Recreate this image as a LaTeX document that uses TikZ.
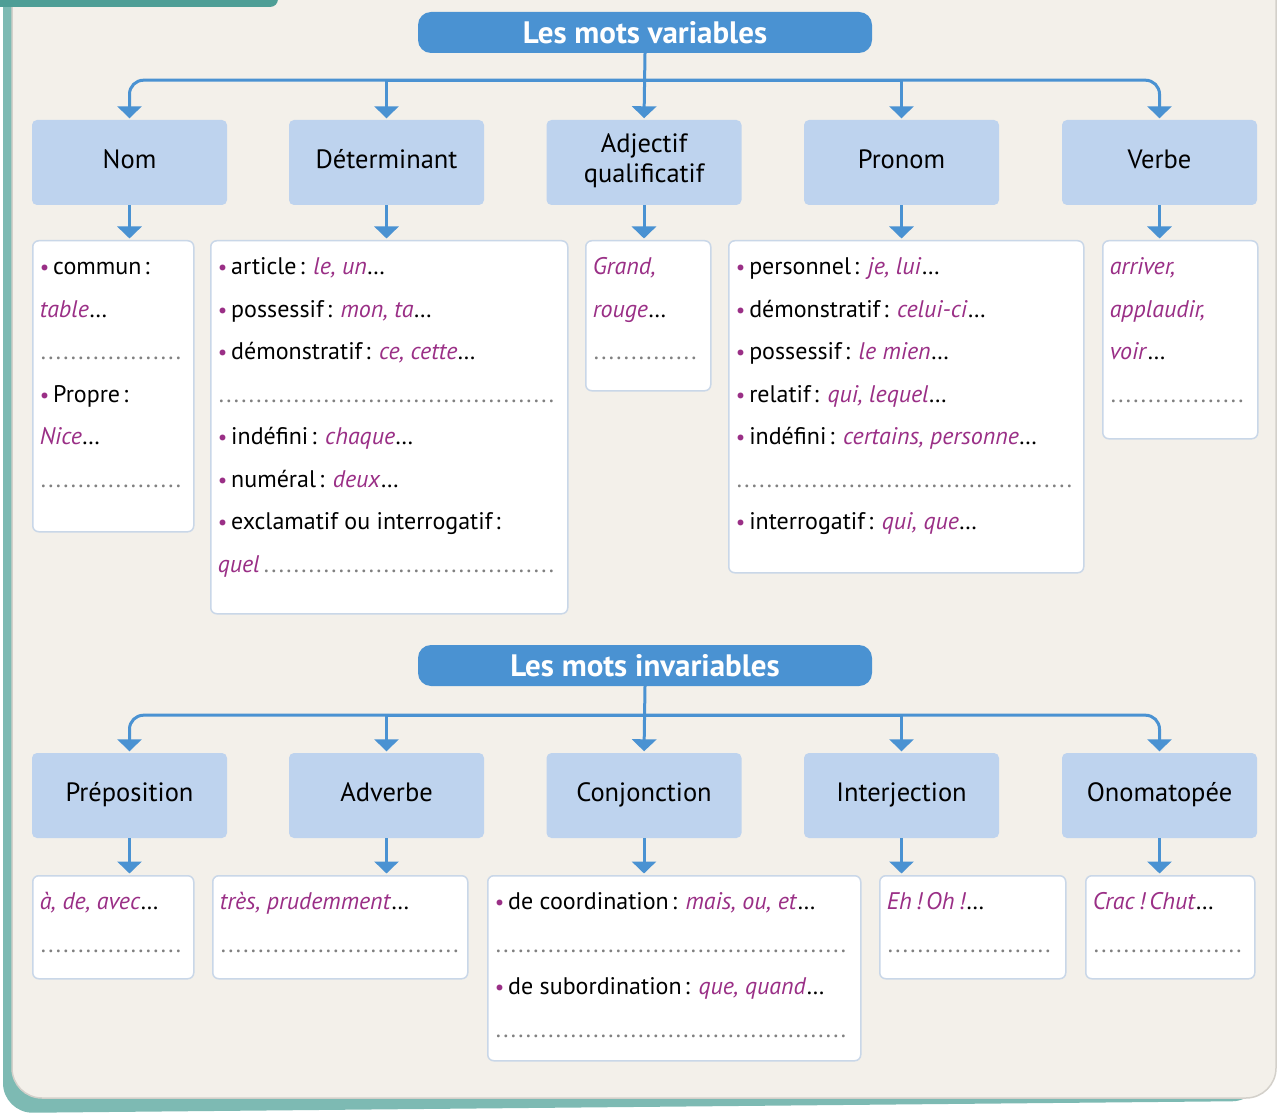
\documentclass[tikz,border=0pt]{standalone}
\usepackage{fontspec}
\setmainfont{PT Sans}
\usepackage{xcolor}
\usetikzlibrary{arrows.meta,positioning}

\definecolor{hdrblue}{HTML}{4A92D2}
\definecolor{catblue}{HTML}{BED3EE}
\definecolor{boxline}{HTML}{C9D7E8}
\definecolor{plum}{HTML}{9A2F86}
\definecolor{paper}{HTML}{F3F0EA}
\definecolor{frame}{HTML}{7DBAB3}
\definecolor{tab}{HTML}{4E9E96}
\definecolor{edge}{HTML}{D3D0CA}
\definecolor{dotgrey}{HTML}{808080}

\newcommand{\ex}[1]{\textcolor{plum}{\textit{#1}}}
\newcommand{\bul}{{\color{plum}\fontsize{21}{21}\selectfont\textbullet}\hspace{4pt}}
\newcommand{\col}{\hspace{3pt}:}
\newcommand{\dotsto}{{\color{dotgrey}\leaders\hbox to 7.5pt{\hss.\hss}\hfill}}
\newcommand{\dotline}{\leavevmode\hbox to \linewidth{\dotsto}}
\newcommand{\listbox}[3]{\parbox[t][#2][t]{#1}{\raggedright\fontsize{24}{42.5}\selectfont\rule{0pt}{28pt}#3}}

\begin{document}
\begin{tikzpicture}[x=1pt,y=-1pt,
    hdr/.style={fill=hdrblue, rounded corners=13pt, minimum width=454pt, minimum height=41pt, inner sep=0pt, text=white, font=\fontsize{31}{33}\selectfont\bfseries},
    cat/.style={fill=catblue, rounded corners=5pt, minimum width=195pt, minimum height=85pt, inner sep=0pt, align=center, font=\fontsize{26.5}{30}\selectfont, execute at begin node=\strut},
    txtbox/.style={draw=boxline, line width=1.5pt, fill=white, rounded corners=6pt, anchor=north west, inner xsep=7pt, inner ysep=6pt},
    link/.style={draw=hdrblue, line width=3pt, shorten >=1.5pt, -{Triangle[width=24pt,length=12pt]}}]
\useasboundingbox (0,0) rectangle (1282,1115);
% background
\fill[white] (0,0) rectangle (1282,1115);
\fill[frame, rounded corners=30pt] (3,-40) -- (3,1113) -- (1262,1101) -- (1262,-40) -- cycle;
\filldraw[fill=paper, draw=edge, line width=1.5pt, rounded corners=30pt] (12,-40) rectangle (1276,1098);
\fill[tab, rounded corners=8pt] (-10,-20) rectangle (278,7);

% les mots variables
\node[hdr] (hdrVar) at (645,32.5) {Les mots variables};
\node[cat] (nom) at (129.5,162.5) {Nom};
\node[cat] (det) at (386.5,162.5) {Déterminant};
\node[cat, execute at begin node={}] (adj) at (644,162.5) {Adjectif\\qualificatif};
\node[cat] (pron) at (901.5,162.5) {Pronom};
\node[cat] (verb) at (1159.5,162.5) {Verbe};

\draw[link] (hdrVar.south) -- (adj.north);
\draw[link, rounded corners=14pt] (hdrVar.south) ++(0,27) -| (nom.north);
\draw[link] (hdrVar.south) ++(0,27) -| (det.north);
\draw[link] (hdrVar.south) ++(0,27) -| (pron.north);
\draw[link, rounded corners=14pt] (hdrVar.south) ++(0,27) -| (verb.north);

\node[txtbox] (nomList) at (32,240) {\listbox{147pt}{279pt}{%
  \bul commun\col\\ \ex{table}\ldots\\ \dotline\\ \bul Propre\col\\ \ex{Nice}\ldots\\ \dotline}};
\node[txtbox] (detList) at (210,240) {\listbox{343pt}{361pt}{%
  \bul article\col{} \ex{le, un}\ldots\\
  \bul possessif\col{} \ex{mon, ta}\ldots\\
  \bul démonstratif\col{} \ex{ce, cette}\ldots\\
  \dotline\\
  \bul indéfini\col{} \ex{chaque}\ldots\\
  \bul numéral\col{} \ex{deux}\ldots\\
  \bul exclamatif ou interrogatif\col\\
  \ex{quel}\dotsto}};
\node[txtbox] (adjList) at (585,240) {\listbox{111pt}{138pt}{%
  \ex{Grand,}\\ \ex{rouge}\ldots\\ \dotline}};
\node[txtbox] (pronList) at (728,240) {\listbox{341pt}{320pt}{%
  \bul personnel\col{} \ex{je, lui}\ldots\\
  \bul démonstratif\col{} \ex{celui-ci}\ldots\\
  \bul possessif\col{} \ex{le mien}\ldots\\
  \bul relatif\col{} \ex{qui, lequel}\ldots\\
  \bul indéfini\col{} \ex{certains, personne}\ldots\\
  \dotline\\
  \bul interrogatif\col{} \ex{qui, que}\ldots}};
\node[txtbox] (verbList) at (1102,240) {\listbox{141pt}{186pt}{%
  \ex{arriver,}\\ \ex{applaudir,}\\ \ex{voir}\ldots\\ \dotline}};

\draw[link] (nom.south) -- (nom.south |- nomList.north);
\draw[link] (det.south) -- (det.south |- detList.north);
\draw[link] (adj.south) -- (adj.south |- adjList.north);
\draw[link] (pron.south) -- (pron.south |- pronList.north);
\draw[link] (verb.south) -- (verb.south |- verbList.north);

% les mots invariables
\node[hdr] (hdrInv) at (645,665.5) {Les mots invariables};
\node[cat] (prep) at (129.5,795.5) {Préposition};
\node[cat] (adv) at (386.5,795.5) {Adverbe};
\node[cat] (conj) at (644,795.5) {Conjonction};
\node[cat] (interj) at (901.5,795.5) {Interjection};
\node[cat] (onom) at (1159.5,795.5) {Onomatopée};

\draw[link] (hdrInv.south) -- (conj.north);
\draw[link, rounded corners=14pt] (hdrInv.south) ++(0,29) -| (prep.north);
\draw[link] (hdrInv.south) ++(0,29) -| (adv.north);
\draw[link] (hdrInv.south) ++(0,29) -| (interj.north);
\draw[link, rounded corners=14pt] (hdrInv.south) ++(0,29) -| (onom.north);

\node[txtbox] (prepList) at (32,875) {\listbox{147pt}{91pt}{%
  \ex{à, de, avec}\ldots\\ \dotline}};
\node[txtbox] (advList) at (212,875) {\listbox{241pt}{91pt}{%
  \ex{très, prudemment}\ldots\\ \dotline}};
\node[txtbox] (conjList) at (487,875) {\listbox{359pt}{173pt}{%
  \bul de coordination\col{} \ex{mais, ou, et}\ldots\\ \dotline\\
  \bul de subordination\col{} \ex{que, quand}\ldots\\ \dotline}};
\node[txtbox] (interjList) at (879,875) {\listbox{172pt}{91pt}{%
  \ex{Eh\,!\,Oh\,!}\ldots\\ \dotline}};
\node[txtbox] (onomList) at (1085,875) {\listbox{155pt}{91pt}{%
  \ex{Crac\,!\,Chut}\ldots\\ \dotline}};

\draw[link] (prep.south) -- (prep.south |- prepList.north);
\draw[link] (adv.south) -- (adv.south |- advList.north);
\draw[link] (conj.south) -- (conj.south |- conjList.north);
\draw[link] (interj.south) -- (interj.south |- interjList.north);
\draw[link] (onom.south) -- (onom.south |- onomList.north);
\end{tikzpicture}
\end{document}
